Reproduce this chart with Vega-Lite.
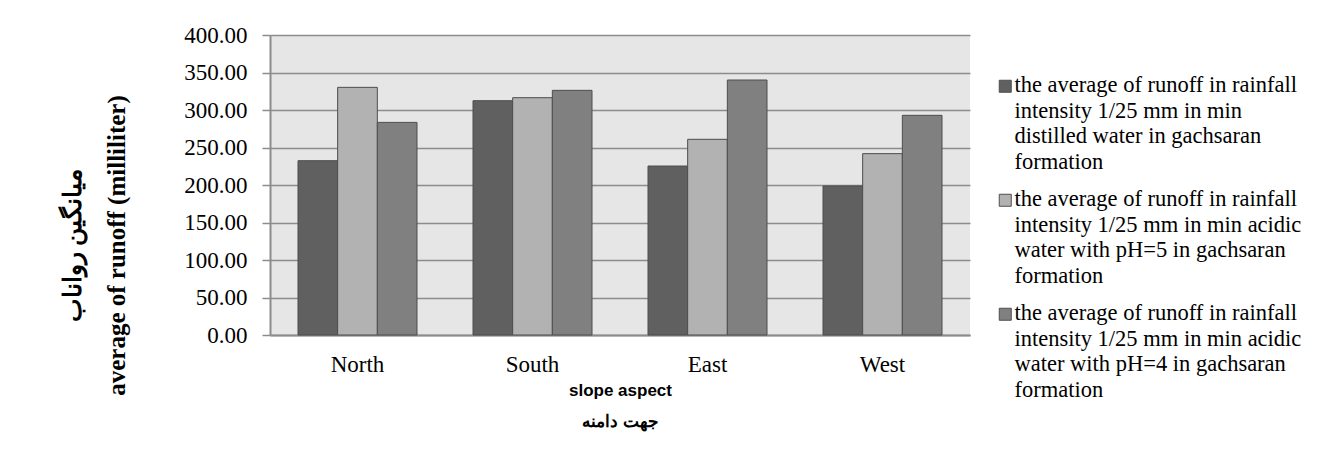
{
  "$schema": "https://vega.github.io/schema/vega-lite/v6.json",
  "autosize": {"type": "none"},
  "padding": {"left": 270, "top": 35, "right": 372, "bottom": 116},
  "width": 700,
  "height": 300,
  "background": "white",
  "data": {
    "values": [
      {"aspect": "North", "series": "the average of runoff in rainfall\nintensity 1/25 mm in min\ndistilled water in gachsaran\nformation", "runoff": 232.4},
      {"aspect": "North", "series": "the average of runoff in rainfall\nintensity 1/25 mm in min acidic\nwater with pH=5 in gachsaran\nformation", "runoff": 330.2},
      {"aspect": "North", "series": "the average of runoff in rainfall\nintensity 1/25 mm in min acidic\nwater with pH=4 in gachsaran\nformation", "runoff": 283.5},
      {"aspect": "South", "series": "the average of runoff in rainfall\nintensity 1/25 mm in min\ndistilled water in gachsaran\nformation", "runoff": 312.4},
      {"aspect": "South", "series": "the average of runoff in rainfall\nintensity 1/25 mm in min acidic\nwater with pH=5 in gachsaran\nformation", "runoff": 316.4},
      {"aspect": "South", "series": "the average of runoff in rainfall\nintensity 1/25 mm in min acidic\nwater with pH=4 in gachsaran\nformation", "runoff": 326.2},
      {"aspect": "East", "series": "the average of runoff in rainfall\nintensity 1/25 mm in min\ndistilled water in gachsaran\nformation", "runoff": 225.3},
      {"aspect": "East", "series": "the average of runoff in rainfall\nintensity 1/25 mm in min acidic\nwater with pH=5 in gachsaran\nformation", "runoff": 260.9},
      {"aspect": "East", "series": "the average of runoff in rainfall\nintensity 1/25 mm in min acidic\nwater with pH=4 in gachsaran\nformation", "runoff": 340.0},
      {"aspect": "West", "series": "the average of runoff in rainfall\nintensity 1/25 mm in min\ndistilled water in gachsaran\nformation", "runoff": 198.7},
      {"aspect": "West", "series": "the average of runoff in rainfall\nintensity 1/25 mm in min acidic\nwater with pH=5 in gachsaran\nformation", "runoff": 241.8},
      {"aspect": "West", "series": "the average of runoff in rainfall\nintensity 1/25 mm in min acidic\nwater with pH=4 in gachsaran\nformation", "runoff": 292.9}
    ]
  },
  "mark": {"type": "bar", "stroke": "#4d4d4d", "strokeWidth": 1},
  "encoding": {
    "x": {
      "field": "aspect",
      "type": "nominal",
      "sort": ["North", "South", "East", "West"],
      "scale": {"paddingInner": 0.32, "paddingOuter": 0.16},
      "axis": {
        "labelAngle": 0,
        "labelFont": "Liberation Serif",
        "labelFontSize": 23,
        "labelColor": "black",
        "labelPadding": 18,
        "ticks": false,
        "domain": true,
        "domainColor": "#8c8c8c",
        "domainWidth": 2,
        "title": ["slope aspect", "جهت دامنه"],
        "titleFont": "Liberation Sans Narrow, Liberation Sans, sans-serif",
        "titleFontSize": 17,
        "titleFontWeight": "bold",
        "titleColor": "black",
        "titleLineHeight": 31,
        "titleY": 47
      }
    },
    "xOffset": {
      "field": "series",
      "type": "nominal",
      "scale": {
        "domain": [
          "the average of runoff in rainfall\nintensity 1/25 mm in min\ndistilled water in gachsaran\nformation",
          "the average of runoff in rainfall\nintensity 1/25 mm in min acidic\nwater with pH=5 in gachsaran\nformation",
          "the average of runoff in rainfall\nintensity 1/25 mm in min acidic\nwater with pH=4 in gachsaran\nformation"
        ],
        "paddingInner": 0,
        "paddingOuter": 0
      }
    },
    "y": {
      "field": "runoff",
      "type": "quantitative",
      "scale": {"domain": [0, 400], "nice": false},
      "axis": {
        "values": [0, 50, 100, 150, 200, 250, 300, 350, 400],
        "format": ".2f",
        "labelFont": "Liberation Serif",
        "labelFontSize": 23,
        "labelColor": "black",
        "labelPadding": 15,
        "tickSize": 8,
        "tickColor": "#8c8c8c",
        "tickWidth": 1.5,
        "domainColor": "#8c8c8c",
        "domainWidth": 2,
        "gridColor": "#8c8c8c",
        "gridWidth": 1.5,
        "title": ["میانگین رواناب", "average of runoff (milliliter)"],
        "titleFont": "Liberation Serif",
        "titleFontSize": 25,
        "titleFontWeight": "bold",
        "titleColor": "black",
        "titleLineHeight": 44,
        "titleX": -185,
        "titleY": 210
      }
    },
    "color": {
      "field": "series",
      "type": "nominal",
      "scale": {
        "domain": [
          "the average of runoff in rainfall\nintensity 1/25 mm in min\ndistilled water in gachsaran\nformation",
          "the average of runoff in rainfall\nintensity 1/25 mm in min acidic\nwater with pH=5 in gachsaran\nformation",
          "the average of runoff in rainfall\nintensity 1/25 mm in min acidic\nwater with pH=4 in gachsaran\nformation"
        ],
        "range": ["#606060", "#b2b2b2", "#808080"]
      },
      "legend": {
        "orient": "none",
        "legendX": 724,
        "legendY": 40,
        "title": null,
        "symbolType": "square",
        "symbolSize": 144,
        "symbolStrokeColor": "#4d4d4d",
        "symbolStrokeWidth": 1,
        "symbolOpacity": 1,
        "labelFont": "Liberation Serif",
        "labelFontSize": 22.5,
        "labelColor": "black",
        "labelLimit": 0,
        "labelOffset": -2,
        "labelBaseline": "top",
        "labelExpr": "split(datum.label, '\\n')",
        "rowPadding": 14,
        "encode": {
          "labels": {"update": {"lineHeight": {"value": 25.5}, "dy": {"value": -12}}}
        }
      }
    }
  },
  "config": {
    "view": {"fill": "#e6e6e6", "stroke": null}
  }
}
